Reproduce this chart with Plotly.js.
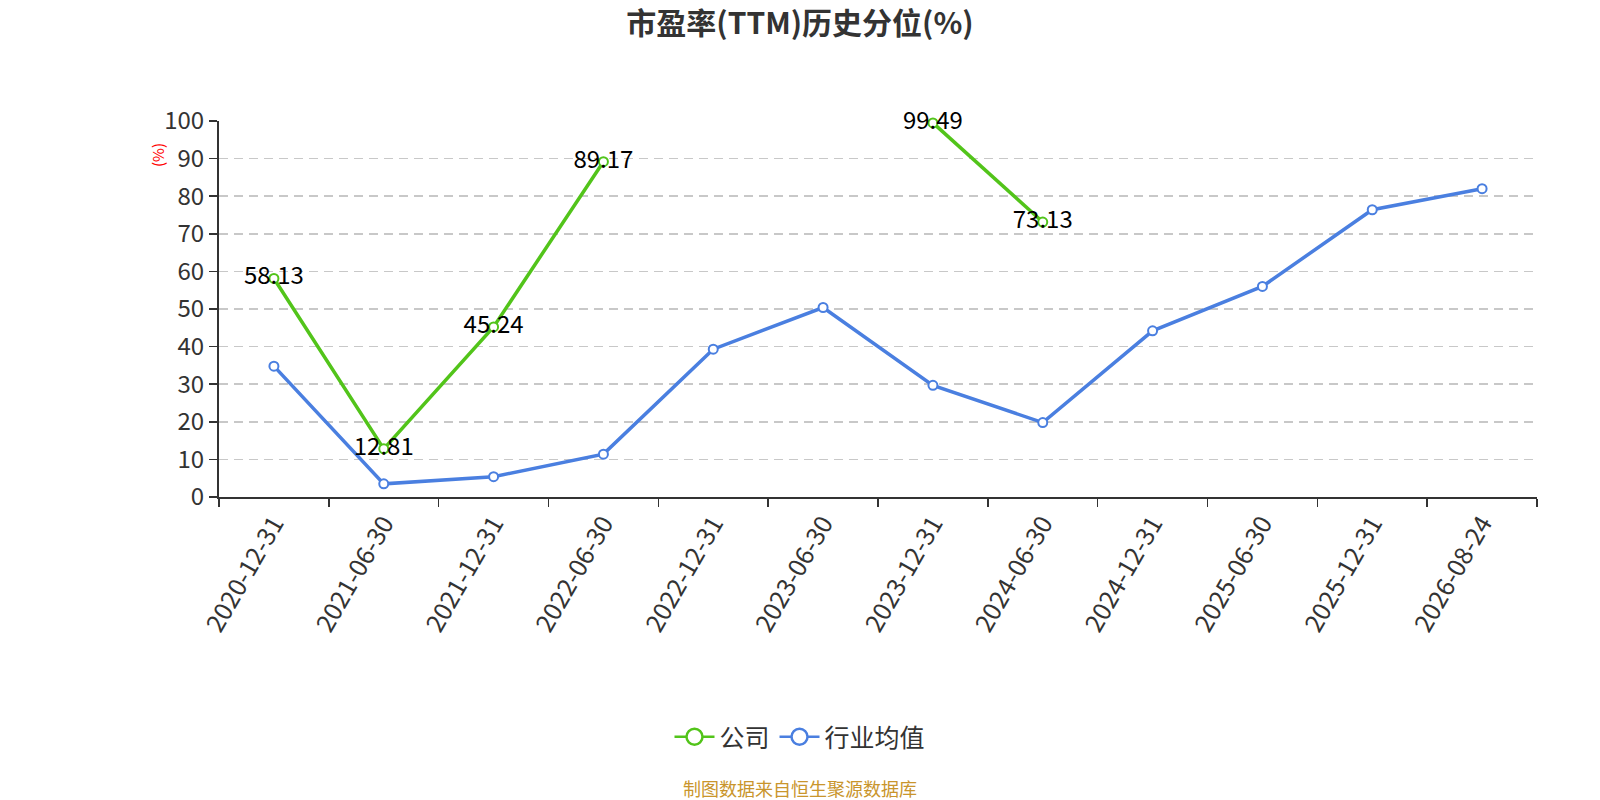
<!DOCTYPE html>
<html>
<head>
<meta charset="utf-8">
<script src="https://cdn.plot.ly/plotly-3.0.1.min.js"></script>
<style>
  html, body { margin: 0; padding: 0; background: #fff; }
  #chart { width: 1600px; height: 800px; }
</style>
</head>
<body>
<div id="chart"></div>
<script>
// Chart data
const dates = ['2020-12-31', '2021-06-30', '2021-12-31', '2022-06-30', '2022-12-31', '2023-06-30',
               '2023-12-31', '2024-06-30', '2024-12-31', '2025-06-30', '2025-12-31', '2026-08-24'];
const companyPct = [58.13, 12.81, 45.24, 89.17, null, null, 99.49, 73.13, null, null, null, null];
const industryPct = [34.8, 3.5, 5.4, 11.4, 39.3, 50.4, 29.7, 19.8, 44.2, 56.0, 76.4, 82.0];
const seriesNames = ['公司', '行业均值'];
const colors = ['#52c41a', '#4a7fe0'];

const FONT = '"Microsoft YaHei", "Noto Sans CJK SC", "Noto Sans", sans-serif';

// plot area in pixels, used to place the free texts
const plotL = 219, plotR = 1537, plotT = 121, plotB = 497;
const pxX = px => (px - plotL) / (plotR - plotL);
const pxY = py => (plotB - py) / (plotB - plotT);

function labelText(arr) {
    return arr.map(v => v === null ? '' : v.toFixed(2));
}

const company = {
    x: dates,
    y: companyPct,
    type: 'scatter',
    mode: 'lines+markers+text',
    text: labelText(companyPct),
    textposition: 'middle center',
    textfont: {family: FONT, size: 24, color: '#000'},
    line: {color: colors[0], width: 3.5},
    marker: {size: 9, color: '#fff', line: {color: colors[0], width: 2}},
    connectgaps: false,
    cliponaxis: false,
    showlegend: false,
    hoverinfo: 'x+y'
};

const industry = {
    x: dates,
    y: industryPct,
    type: 'scatter',
    mode: 'lines+markers',
    line: {color: colors[1], width: 3.5},
    marker: {size: 9, color: '#fff', line: {color: colors[1], width: 2}},
    cliponaxis: false,
    showlegend: false,
    hoverinfo: 'x+y'
};

// legend-only entries with larger symbols
const legendItems = seriesNames.map((name, i) => ({
    x: [dates[0]],
    y: [null],
    name: name,
    type: 'scatter',
    mode: 'lines+markers',
    line: {color: colors[i], width: 2.5},
    marker: {size: 16, color: '#fff', line: {color: colors[i], width: 2.5}},
    hoverinfo: 'skip'
}));

const layout = {
    width: 1600,
    height: 800,
    paper_bgcolor: '#fff',
    plot_bgcolor: '#fff',
    margin: {l: plotL, r: 1600 - plotR, t: plotT, b: 800 - plotB, autoexpand: false},
    font: {family: FONT, color: '#333'},
    title: {
        text: '<b>市盈率(TTM)历史分位(%)</b>',
        x: 0.5, xanchor: 'center',
        y: 1 - 23 / 800, yanchor: 'middle',
        font: {family: FONT, size: 30, color: '#333'}
    },
    xaxis: {
        type: 'category',
        range: [-0.5, dates.length - 0.5],
        tickson: 'boundaries',
        ticks: 'outside',
        ticklen: 8,
        tickwidth: 1.5,
        tickcolor: '#333',
        showline: true,
        linecolor: '#333',
        linewidth: 2,
        showgrid: false,
        tickangle: -60,
        tickfont: {family: FONT, size: 25, color: '#333'},
        fixedrange: true
    },
    yaxis: {
        range: [0, 100],
        dtick: 10,
        ticks: 'outside',
        ticklen: 8,
        tickwidth: 1.5,
        tickcolor: '#333',
        showline: true,
        linecolor: '#333',
        linewidth: 2,
        showgrid: true,
        gridcolor: '#c8c8c8',
        gridwidth: 1.5,
        griddash: '9px,6px',
        zeroline: false,
        tickfont: {family: FONT, size: 24, color: '#333'},
        fixedrange: true
    },
    legend: {
        orientation: 'h',
        x: pxX(800), xanchor: 'center',
        y: pxY(737), yanchor: 'middle',
        font: {family: FONT, size: 25, color: '#333'},
        itemwidth: 40
    },
    annotations: [
        {
            text: '(%)',
            xref: 'paper', yref: 'paper',
            x: pxX(157), y: pxY(155),
            xanchor: 'center', yanchor: 'middle',
            textangle: -90,
            showarrow: false,
            font: {family: FONT, size: 15, color: '#ff0000'}
        },
        {
            text: '制图数据来自恒生聚源数据库',
            xref: 'paper', yref: 'paper',
            x: pxX(800), y: pxY(788),
            xanchor: 'center', yanchor: 'middle',
            showarrow: false,
            font: {family: FONT, size: 18, color: '#c9952c'}
        }
    ]
};

Plotly.newPlot('chart', [industry, company].concat(legendItems), layout, {displayModeBar: false, staticPlot: true});
</script>
</body>
</html>
